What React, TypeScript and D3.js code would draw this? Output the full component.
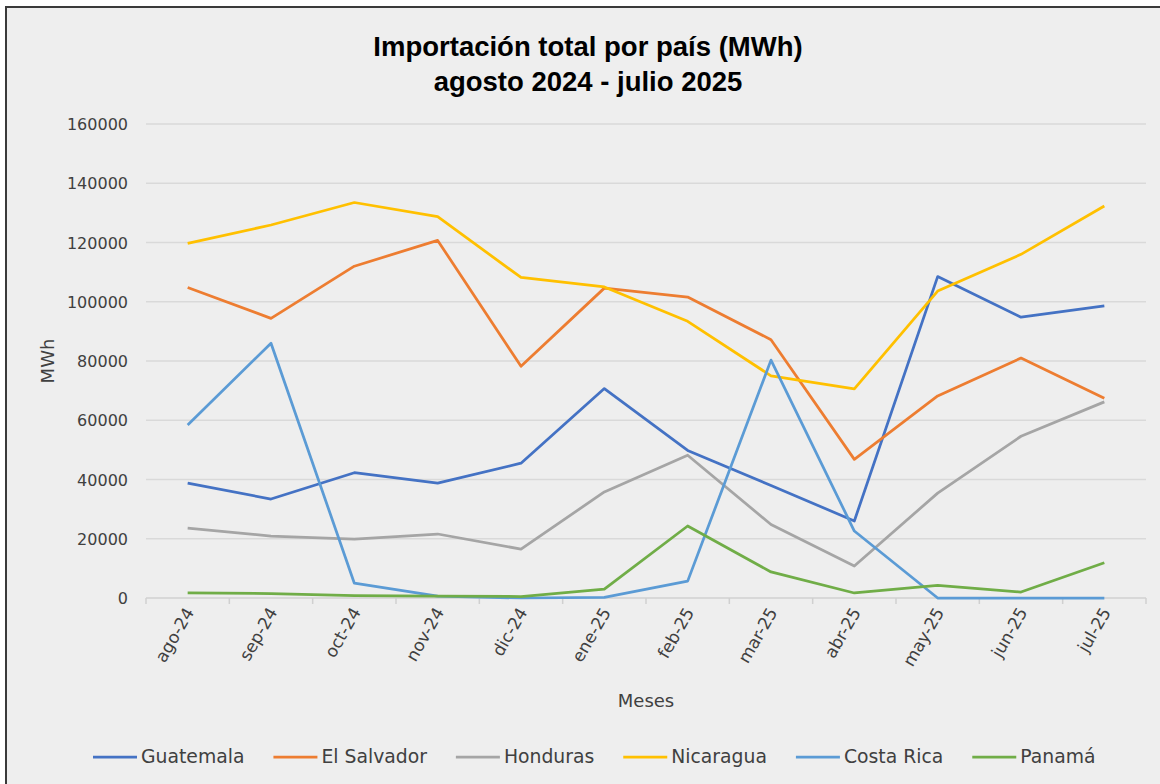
import React, { useEffect, useRef } from 'react';
import * as d3 from 'd3';

// Chart data
const months = ['ago-24', 'sep-24', 'oct-24', 'nov-24', 'dic-24', 'ene-25', 'feb-25', 'mar-25', 'abr-25', 'may-25', 'jun-25', 'jul-25'];
const guatemala = [38800, 33400, 42300, 38800, 45500, 70700, 49800, 38000, 26000, 108500, 94800, 98600];
const elSalvador = [104800, 94400, 112000, 120700, 78200, 104600, 101600, 87200, 46800, 68200, 81000, 67400];
const honduras = [23600, 20900, 19900, 21600, 16500, 35800, 48200, 24800, 10800, 35400, 54600, 66200];
const nicaragua = [119700, 125900, 133500, 128700, 108200, 105000, 93400, 75000, 70600, 103600, 116000, 132300];
const costaRica = [58400, 86000, 5000, 600, 0, 200, 5700, 80300, 22600, 0, 0, 0];
const panama = [1700, 1500, 800, 600, 500, 3000, 24300, 8800, 1700, 4300, 2000, 11900];
const yTicks = [0, 20000, 40000, 60000, 80000, 100000, 120000, 140000, 160000];

const seriesNames = ['Guatemala', 'El Salvador', 'Honduras', 'Nicaragua', 'Costa Rica', 'Panamá'];
const seriesValues = [guatemala, elSalvador, honduras, nicaragua, costaRica, panama];
const colors = ['#4472C4', '#ED7D31', '#A5A5A5', '#FFC000', '#5B9BD5', '#70AD47'];

const W = 1160;
const H = 784;
const PLOT_LEFT = 146;
const PLOT_RIGHT = 1146;
const PLOT_TOP = 124;
const PLOT_BOTTOM = 598;
const FONT = '"DejaVu Sans", sans-serif';

export default function App() {
  const ref = useRef<SVGSVGElement>(null);

  useEffect(() => {
    const svg = d3.select(ref.current);
    svg.selectAll('*').remove();

    // frame
    svg.append('rect').attr('width', W).attr('height', H).attr('fill', '#ffffff');
    svg.append('rect')
      .attr('x', 6).attr('y', 7).attr('width', W + 20).attr('height', H + 20)
      .attr('fill', '#eeeeee').attr('stroke', '#3a3a3a').attr('stroke-width', 2);

    // title
    const title = svg.append('text')
      .attr('text-anchor', 'middle')
      .attr('font-family', '"Liberation Sans", sans-serif')
      .attr('font-weight', 'bold')
      .attr('font-size', 27.5)
      .attr('fill', '#000');
    title.append('tspan').attr('x', 588).attr('y', 56).text('Importación total por país (MWh)');
    title.append('tspan').attr('x', 588).attr('y', 91).text('agosto 2024 - julio 2025');

    const x = d3.scaleBand().domain(months).range([PLOT_LEFT, PLOT_RIGHT]);
    const y = d3.scaleLinear().domain([0, 160000]).range([PLOT_BOTTOM, PLOT_TOP]);

    // grid
    svg.append('g').selectAll('line')
      .data(yTicks.filter(d => d > 0))
      .enter().append('line')
      .attr('x1', PLOT_LEFT).attr('x2', PLOT_RIGHT)
      .attr('y1', d => y(d)).attr('y2', d => y(d))
      .attr('stroke', '#d9d9d9').attr('stroke-width', 1.5);

    // y labels
    svg.append('g').selectAll('text')
      .data(yTicks)
      .enter().append('text')
      .attr('x', 128).attr('y', d => y(d) + 6)
      .attr('text-anchor', 'end')
      .attr('font-family', FONT).attr('font-size', 16)
      .attr('fill', '#404040')
      .text(d => String(d));

    // x axis
    const xAxis = svg.append('g');
    xAxis.append('line')
      .attr('x1', PLOT_LEFT).attr('x2', PLOT_RIGHT)
      .attr('y1', PLOT_BOTTOM).attr('y2', PLOT_BOTTOM)
      .attr('stroke', '#d0d0d0').attr('stroke-width', 1.5);
    const boundaries = months.map(m => x(m) as number).concat([PLOT_RIGHT]);
    xAxis.selectAll('line.tick')
      .data(boundaries)
      .enter().append('line')
      .attr('class', 'tick')
      .attr('x1', d => d).attr('x2', d => d)
      .attr('y1', PLOT_BOTTOM).attr('y2', PLOT_BOTTOM + 6)
      .attr('stroke', '#d0d0d0').attr('stroke-width', 1.5);
    xAxis.selectAll('text')
      .data(months)
      .enter().append('text')
      .attr('transform', d => `translate(${(x(d) as number) + x.bandwidth() / 2 + 7},${PLOT_BOTTOM + 14}) rotate(-60)`)
      .attr('text-anchor', 'end')
      .attr('font-family', FONT).attr('font-size', 17)
      .attr('fill', '#404040')
      .text(d => d);

    // axis titles
    svg.append('text')
      .attr('x', 646).attr('y', 707)
      .attr('text-anchor', 'middle')
      .attr('font-family', FONT).attr('font-size', 18)
      .attr('fill', '#404040')
      .text('Meses');
    svg.append('text')
      .attr('transform', `translate(54,${(PLOT_TOP + PLOT_BOTTOM) / 2}) rotate(-90)`)
      .attr('text-anchor', 'middle')
      .attr('font-family', FONT).attr('font-size', 18)
      .attr('fill', '#404040')
      .text('MWh');

    // lines
    const line = d3.line<number>()
      .x((_, i) => (x(months[i]) as number) + x.bandwidth() / 2)
      .y(d => y(d));
    svg.append('g').selectAll('path')
      .data(seriesValues)
      .enter().append('path')
      .attr('d', d => line(d))
      .attr('fill', 'none')
      .attr('stroke', (_, i) => colors[i])
      .attr('stroke-width', 2.75)
      .attr('stroke-linejoin', 'round');

    // legend
    const legend = svg.append('g');
    let lx = 93;
    seriesNames.forEach((name, i) => {
      legend.append('line')
        .attr('x1', lx).attr('x2', lx + 44)
        .attr('y1', 757).attr('y2', 757)
        .attr('stroke', colors[i]).attr('stroke-width', 2.75);
      const t = legend.append('text')
        .attr('x', lx + 48).attr('y', 763)
        .attr('font-family', FONT).attr('font-size', 18.8)
        .attr('fill', '#404040')
        .text(name);
      const tw = (t.node() as SVGTextElement).getComputedTextLength();
      lx = lx + 48 + tw + 29;
    });
  }, []);

  return (
    <svg ref={ref} width={W} height={H}
      style={{ position: 'absolute', left: 0, top: 0, display: 'block' }} />
  );
}
